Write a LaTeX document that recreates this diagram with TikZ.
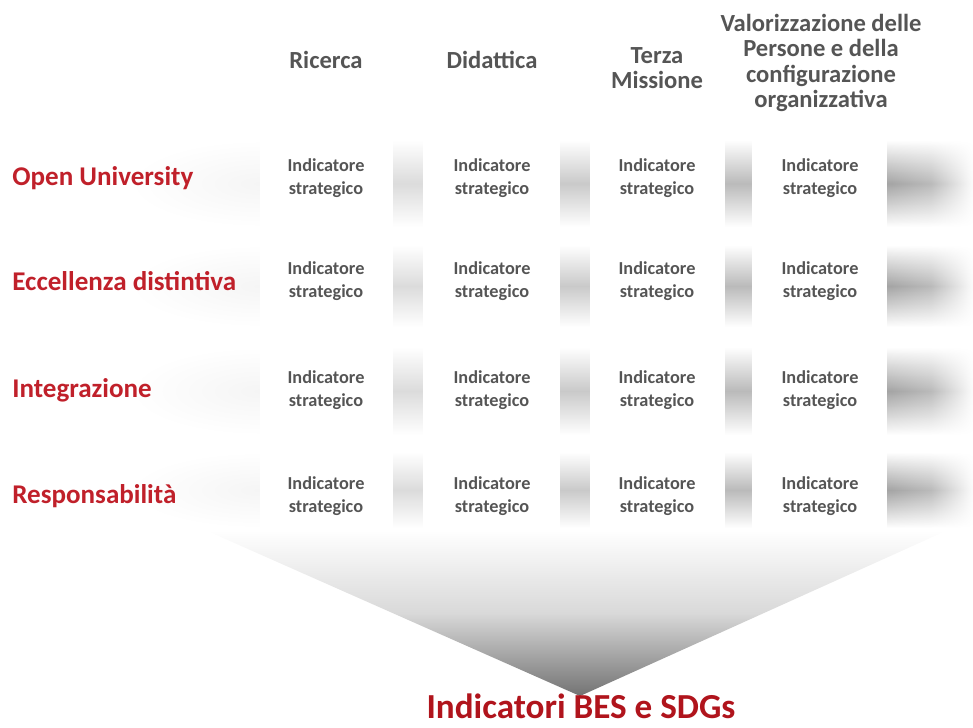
\documentclass[tikz,border=0pt]{standalone}
\usepackage{fontspec}
\setmainfont{Carlito}
\usepackage{xcolor}
\usepackage{tikz}
\usetikzlibrary{fadings}

\definecolor{uniRed}{HTML}{C0202A}
\definecolor{besRed}{HTML}{B0141C}
\definecolor{headGray}{HTML}{555555}

\tikzfading[name=soft, inner color=transparent!0, outer color=transparent!100]
\tikzfading[name=fade right, left color=transparent!0, right color=transparent!100, middle color=transparent!25]

\tikzset{
  rowlabel/.style={anchor=west, inner sep=0pt, text=uniRed, font=\fontsize{15.4}{18}\selectfont\bfseries},
  colhead/.style={align=center, text=headGray, font=\fontsize{14}{14.5}\selectfont\bfseries},
  celltext/.style={align=center, text=headGray, font=\fontsize{10.4}{13}\selectfont\bfseries},
}

\begin{document}
\begin{tikzpicture}[x=0.02cm, y=-0.02cm]
\useasboundingbox (0,0) rectangle (973,727);

% righe: strisce grigie, ombre e celle bianche
\foreach \r/\yt/\ya/\yb in {1/178/140/227, 2/281/245/327, 3/390/347/435, 4/496/452/528} {
  \fill[black!4, path fading=soft] (130,\ya) rectangle (390,\yb);
  \shade[top color=white, bottom color=white, middle color=black!36, path fading=fade right] (887,\ya) rectangle (975,\yb);
  \shade[top color=white, bottom color=white, middle color=black!14] (393,\ya) rectangle (423,\yb);
  \shade[top color=white, bottom color=white, middle color=black!21] (560,\ya) rectangle (590,\yb);
  \shade[top color=white, bottom color=white, middle color=black!27] (725,\ya) rectangle (752,\yb);
  \fill[white] (260,\ya) rectangle (393,\yb);
  \fill[white] (423,\ya) rectangle (560,\yb);
  \fill[white] (590,\ya) rectangle (725,\yb);
  \fill[white] (752,\ya) rectangle (887,\yb);
  \foreach \c/\x in {1/326, 2/492, 3/657, 4/820}
    \node[celltext] (cell-\r-\c) at (\x,\yt) {Indicatore\\strategico};
}

% imbuto
\shade[top color=white, bottom color=black!55, middle color=black!15] (205,530) -- (948,530) -- (580,696) -- cycle;

\node[colhead] (ricerca) at (326,60) {Ricerca};
\node[colhead] (didattica) at (492,60) {Didattica};
\node[colhead] (terza) at (657,68) {Terza\\Missione};
\node[colhead] (persone) at (821,63) {Valorizzazione delle\\Persone e della\\configurazione\\organizzativa};

\node[rowlabel] (open) at (12,178) {Open University};
\node[rowlabel] (eccellenza) at (12,281) {Eccellenza distintiva};
\node[rowlabel] (integrazione) at (12,390) {Integrazione};
\node[rowlabel] (responsabilita) at (12,496) {Responsabilità};

\node[anchor=base, inner sep=0pt, text=besRed, font=\fontsize{20}{24}\selectfont\bfseries] (bes) at (581,718) {Indicatori BES e SDGs};

\end{tikzpicture}
\end{document}
